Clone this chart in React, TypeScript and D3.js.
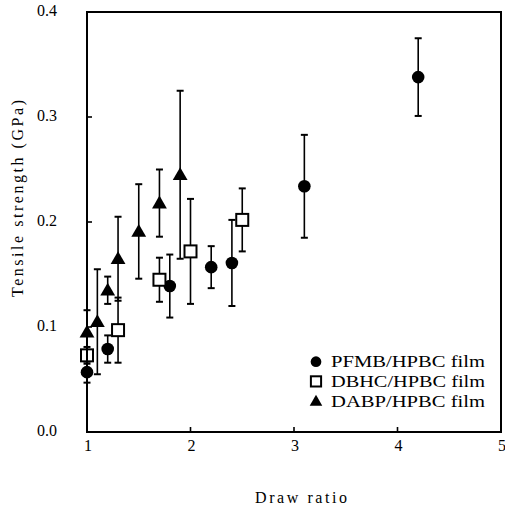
import React from "react";
import * as d3 from "d3";

// Draw ratio and tensile strength (GPa) with error half-widths, per film
const pfmbX = [1.0, 1.2, 1.8, 2.2, 2.4, 3.1, 4.2];
const pfmbY = [0.057, 0.079, 0.139, 0.157, 0.161, 0.234, 0.338];
const pfmbErr = [0.01, 0.013, 0.03, 0.02, 0.041, 0.049, 0.037];

const dbhcX = [1.0, 1.3, 1.7, 2.0, 2.5];
const dbhcY = [0.073, 0.097, 0.145, 0.172, 0.202];
const dbhcErr = [0.008, 0.031, 0.021, 0.05, 0.03];

const dabpX = [1.0, 1.1, 1.2, 1.3, 1.5, 1.7, 1.9];
const dabpY = [0.095, 0.105, 0.135, 0.165, 0.191, 0.218, 0.245];
const dabpErr = [0.021, 0.05, 0.013, 0.04, 0.045, 0.032, 0.08];

const xTicks = [1, 2, 3, 4, 5];
const yTicks = [0.0, 0.1, 0.2, 0.3, 0.4];
const legendLabels = ["PFMB/HPBC film", "DBHC/HPBC film", "DABP/HPBC film"];

const W = 505;
const H = 509;
const left = 87;
const right = 501;
const top = 12;
const bottom = 432;

const font = "'Liberation Serif', 'DejaVu Serif', serif";

type Pt = { x: number; y: number; e: number };
const zip = (xs: number[], ys: number[], es: number[]): Pt[] =>
  xs.map((x, i) => ({ x, y: ys[i], e: es[i] }));

export default function App() {
  const x = d3.scaleLinear().domain([1, 5]).range([left, right]);
  const y = d3.scaleLinear().domain([0, 0.4]).range([bottom, top]);

  const series = [
    { kind: "circle", pts: zip(pfmbX, pfmbY, pfmbErr) },
    { kind: "square", pts: zip(dbhcX, dbhcY, dbhcErr) },
    { kind: "triangle", pts: zip(dabpX, dabpY, dabpErr) },
  ];

  const tri = d3.symbol().type(d3.symbolTriangle).size(95)();

  const marker = (kind: string, cx: number, cy: number, key: string, s = 1) => {
    if (kind === "circle")
      return <circle key={key} cx={cx} cy={cy} r={6.3 * s} fill="#000" />;
    if (kind === "square")
      return (
        <rect
          key={key}
          x={cx - 6 * s}
          y={cy - 6 * s}
          width={12 * s}
          height={12 * s}
          fill="#fff"
          stroke="#000"
          strokeWidth={2}
        />
      );
    return (
      <path
        key={key}
        d={tri as string}
        transform={`translate(${cx},${cy + 1}) scale(${s})`}
        fill="#000"
      />
    );
  };

  const cap = 3.5;

  return (
    <svg
      width={W}
      height={H}
      style={{ position: "absolute", left: 0, top: 0, background: "#fff" }}
      fontFamily={font}
    >
      {/* error bars */}
      {series.map((s) =>
        s.pts.map((p, i) => {
          const cx = x(p.x);
          const y1 = y(p.y + p.e);
          const y2 = y(p.y - p.e);
          return (
            <g key={`${s.kind}-e-${i}`} stroke="#000" strokeWidth={1.6}>
              <line x1={cx} x2={cx} y1={y1} y2={y2} />
              <line x1={cx - cap} x2={cx + cap} y1={y1} y2={y1} strokeWidth={2} />
              <line x1={cx - cap} x2={cx + cap} y1={y2} y2={y2} strokeWidth={2} />
            </g>
          );
        })
      )}

      {/* markers */}
      {series.map((s) =>
        s.pts.map((p, i) => marker(s.kind, x(p.x), y(p.y), `${s.kind}-m-${i}`))
      )}

      {/* frame */}
      <rect
        x={left}
        y={top}
        width={right - left}
        height={bottom - top}
        fill="none"
        stroke="#000"
        strokeWidth={2}
      />

      {/* ticks */}
      {xTicks.slice(1, -1).map((t) => (
        <line key={`xt${t}`} x1={x(t)} x2={x(t)} y1={bottom} y2={bottom - 5} stroke="#000" strokeWidth={1.6} />
      ))}
      {yTicks.slice(1, -1).map((t) => (
        <line key={`yt${t}`} x1={left} x2={left + 5} y1={y(t)} y2={y(t)} stroke="#000" strokeWidth={1.6} />
      ))}

      {/* tick labels */}
      {xTicks.map((t) => (
        <text key={`xl${t}`} x={x(t) + 1} y={451} textAnchor="middle" fontSize={16} fill="#000">
          {t}
        </text>
      ))}
      {yTicks.map((t) => (
        <text
          key={`yl${t}`}
          x={57}
          y={y(t) + 4}
          textAnchor="end"
          fontSize={16}
          fill="#000"
        >
          {t.toFixed(1)}
        </text>
      ))}

      {/* axis titles */}
      <text
        x={255}
        y={503}
        fontSize={16}
        fill="#000"
        textLength={92}
        lengthAdjust="spacing"
      >
        Draw ratio
      </text>
      <text
        transform={`translate(23,297) rotate(-90)`}
        fontSize={16}
        fill="#000"
        textLength={197}
        lengthAdjust="spacing"
      >
        Tensile strength (GPa)
      </text>

      {/* legend */}
      {legendLabels.map((label, i) => {
        const ly = 361.7 + i * 19.7;
        const kind = series[i].kind;
        return (
          <g key={`lg${i}`}>
            {marker(kind, 316, ly, `lm${i}`, 0.85)}
            <text
              x={331}
              y={ly + 5.5}
              fontSize={16}
              fill="#000"
              textLength={154}
              lengthAdjust="spacingAndGlyphs"
            >
              {label}
            </text>
          </g>
        );
      })}
    </svg>
  );
}
